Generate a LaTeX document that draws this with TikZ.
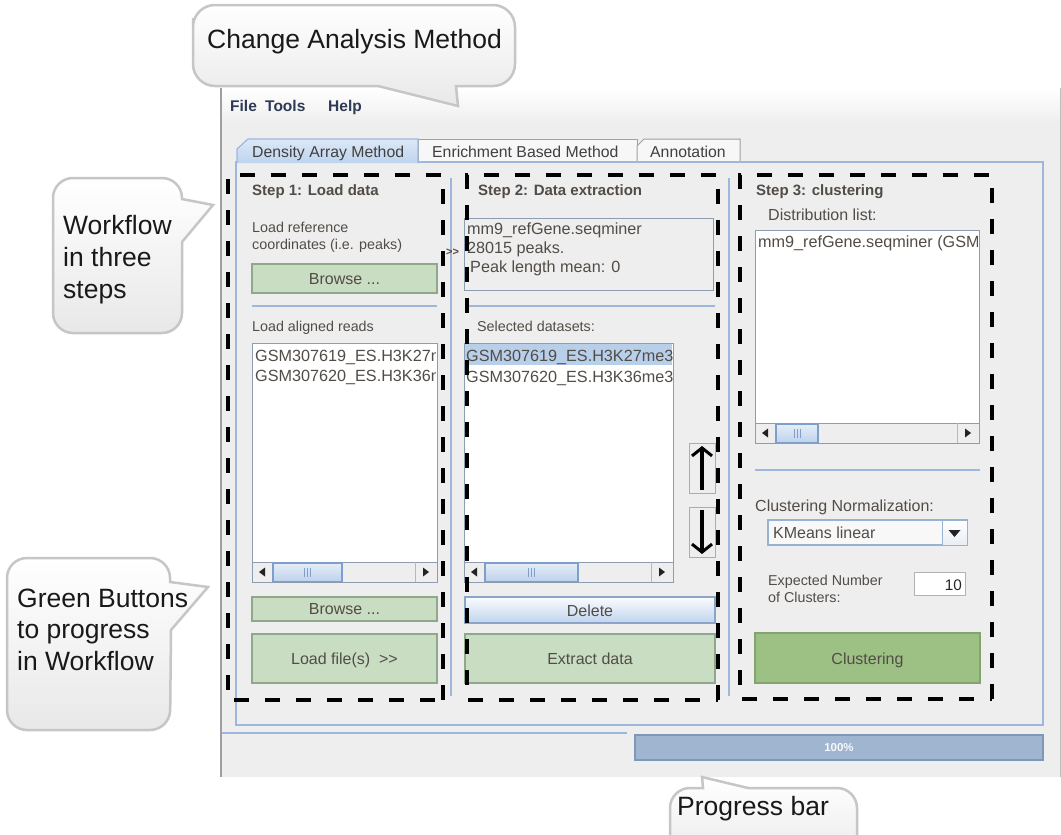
\documentclass[tikz,border=0pt]{standalone}
\usepackage{fontspec}
\setmainfont{Liberation Sans}
\usetikzlibrary{arrows.meta}
\definecolor{winbg}{HTML}{EEEEEE}
\definecolor{guitxt}{HTML}{524C47}
\definecolor{menutxt}{HTML}{2E3A56}
\definecolor{panelblue}{HTML}{9DB8DC}
\definecolor{tabT}{HTML}{DCE8F6}
\definecolor{tabB}{HTML}{BED4EE}
\definecolor{tabgray}{HTML}{F7F7F7}
\definecolor{tabborder}{HTML}{A0A0A0}
\definecolor{greenA}{HTML}{C9DDC2}
\definecolor{greenAb}{HTML}{8FA78B}
\definecolor{greenB}{HTML}{9DC184}
\definecolor{greenBb}{HTML}{83A36F}
\definecolor{selblue}{HTML}{B8CFEA}
\definecolor{listborder}{HTML}{8E9CB0}
\definecolor{thumbT}{HTML}{E6EEF8}
\definecolor{thumbB}{HTML}{BDD2EC}
\definecolor{thumbborder}{HTML}{7E9FC9}
\definecolor{delT}{HTML}{FBFCFE}
\definecolor{delB}{HTML}{BFD4EE}
\definecolor{delborder}{HTML}{8AA5C8}
\definecolor{progfill}{HTML}{A0B6D0}
\definecolor{progborder}{HTML}{7F98B8}
\definecolor{bubbleB}{HTML}{E8E8E8}
\definecolor{bubbleborder}{HTML}{C6C6C6}
\definecolor{arrowgray}{HTML}{222222}

\newcommand\hscrollbar[4]{%
  \fill[winbg] (#1,#3) rectangle (#2,#3+20);
  \draw[listborder, line width=0.8pt] (#1,#3) -- (#2,#3);
  \draw[listborder!70, line width=0.8pt] (#1+21,#3) -- (#1+21,#3+20) (#2-22,#3) -- (#2-22,#3+20);
  \shade[top color=thumbT, bottom color=thumbB] (#1+21,#3+1) rectangle (#4,#3+19.5);
  \draw[thumbborder, line width=1.2pt] (#1+21,#3+1) rectangle (#4,#3+19.5);
  \draw[thumbborder, line width=0.6pt]
    ({(#1+21+#4)/2-3},#3+6) -- ++(0,9)
    ({(#1+21+#4)/2},#3+6) -- ++(0,9)
    ({(#1+21+#4)/2+3},#3+6) -- ++(0,9);
  \fill[arrowgray] (#1+7,#3+10) -- (#1+13,#3+5.5) -- (#1+13,#3+14.5) -- cycle;
  \fill[arrowgray] (#2-8,#3+10) -- (#2-14,#3+5.5) -- (#2-14,#3+14.5) -- cycle;
}

\tikzset{
  lbl/.style={inner sep=0pt, anchor=base west, text=guitxt, font=\fontsize{14.3}{16}\selectfont},
  steptitle/.style={inner sep=0pt, anchor=base west, text=guitxt, font=\fontsize{15}{17}\selectfont\bfseries},
  item/.style={inner sep=0pt, anchor=base west, text=guitxt, font=\fontsize{16.2}{18}\selectfont},
  biglbl/.style={inner sep=0pt, anchor=base west, text=guitxt, font=\fontsize{16}{18}\selectfont},
  btntext/.style={inner sep=0pt, anchor=base, text=guitxt, font=\fontsize{16}{18}\selectfont},
  greenbtn/.style={fill=greenA, draw=greenAb, line width=1.2pt},
  darkgreenbtn/.style={fill=greenB, draw=greenBb, line width=1.2pt},
  listbox/.style={fill=white, draw=listborder, line width=1pt},
  sepline/.style={draw=panelblue, line width=1.5pt},
  dashbox/.style={draw=black, line width=3.5pt, dash pattern=on 15pt off 16pt},
  bubble/.style={top color=white, bottom color=bubbleB, draw=bubbleborder, line width=2.5pt},
  bubbletext/.style={inner sep=0pt, anchor=base west, text=black!90, font=\fontsize{26.5}{32}\selectfont},
  tabtext/.style={inner sep=0pt, anchor=base west, text=black!75, font=\fontsize{15.8}{18}\selectfont},
  menutext/.style={inner sep=0pt, anchor=base west, text=menutxt, font=\fontsize{15.5}{17}\selectfont\bfseries},
  updown/.style={fill=winbg, draw=gray!65, line width=1pt},
  udarrow/.style={draw=black, line width=3.6pt, -{Straight Barb[length=8pt,width=20pt,line width=3pt]}},
}

\begin{document}
\begin{tikzpicture}[x=1pt,y=-1pt]
\useasboundingbox (0,0) rectangle (1061,835);
\clip (0,0) rectangle (1061,835);
\fill[white] (0,0) rectangle (1061,835);

% ---------- window ----------
\fill[winbg] (221,88) rectangle (1061,777);
\shade[top color=white, bottom color=winbg] (221,88) rectangle (1061,124);
\draw[gray!75, line width=1.5pt] (221,88) -- (221,777);
\draw[gray!50, line width=1pt] (1060,88) -- (1060,777);

% menu
\node[menutext] (mfile) at (230,111) {File};
\node[menutext] (mtools) at (265,111) {Tools};
\node[menutext] (mhelp) at (328,111) {Help};

% tabs
\filldraw[fill=tabgray, draw=tabborder, line width=1pt] (418,162) -- (418,139) -- (637,139) -- (637,162);
\filldraw[fill=tabgray, draw=tabborder, line width=1pt] (637,162) -- (637,146) -- (644,139) -- (740,139) -- (740,162);
% panel
\draw[panelblue, line width=1.5pt] (236,162) rectangle (1043,725);
\shadedraw[top color=tabT, bottom color=tabB, draw=panelblue, line width=1.2pt] (237,163) -- (237,149) -- (248,139) -- (418,139) -- (418,163);
\node[tabtext] (tab1) at (252,157) {Density Array Method};
\node[tabtext] (tab2) at (432,157) {Enrichment Based Method};
\node[tabtext] (tab3) at (650,157) {Annotation};

% separators between steps
\draw[sepline] (451,178) -- (451,696);
\draw[sepline] (729,178) -- (729,696);

% ---------- Step 1 ----------
\node[steptitle] (s1title) at (252,195) {Step 1: Load data};
\node[lbl] (s1ref1) at (252,232) {Load reference};
\node[lbl] (s1ref2) at (252,249) {coordinates (i.e. peaks)};
\draw[greenbtn] (252,264) rectangle (437,293);
\node[btntext] (s1browse1) at (344.5,284) {Browse ...};
\draw[sepline] (252,306) -- (437,306);
\node[lbl] (s1reads) at (252,331) {Load aligned reads};
\draw[listbox] (252,343) rectangle (437,582);
\begin{scope}
  \clip (253,344) rectangle (435,562);
  \node[item] (s1item1) at (255,361) {GSM307619\_ES.H3K27m};
  \node[item] (s1item2) at (255,381) {GSM307620\_ES.H3K36m};
\end{scope}
\hscrollbar{252}{437}{562}{342}
\draw[listbox, fill=none] (252,343) rectangle (437,582);
\draw[greenbtn] (252,597) rectangle (437,621);
\node[btntext] (s1browse2) at (344.5,614) {Browse ...};
\draw[greenbtn] (252,634) rectangle (437,683);
\node[btntext] (s1load) at (344.5,664) {Load file(s)\ \ {>}{>}};

% ---------- Step 2 ----------
\node[steptitle] (s2title) at (478,195) {Step 2: Data extraction};
\draw[listborder, line width=1pt] (464,218) rectangle (713,290);
\node[item] (s2info1) at (467,234) {mm9\_refGene.seqminer};
\node[item] (s2info2) at (467,253) {28015 peaks.};
\node[item] (s2info3) at (470,272) {Peak length mean: 0};
\node[inner sep=0pt, anchor=base west, text=guitxt, font=\fontsize{11}{12}\selectfont\bfseries] (gtgt) at (446,255) {{>}{>}};
\draw[sepline] (465,306) -- (715,306);
\node[lbl] (s2sel) at (477,331) {Selected datasets:};
\draw[listbox] (464,343) rectangle (673,582);
\fill[selblue] (465,344) rectangle (672,365);
\begin{scope}
  \clip (465,344) rectangle (672,562);
  \node[item] (s2item1) at (466,361) {GSM307619\_ES.H3K27me3};
  \node[item] (s2item2) at (466,382) {GSM307620\_ES.H3K36me3};
\end{scope}
\hscrollbar{464}{673}{562}{578}
\draw[listbox, fill=none] (464,343) rectangle (673,582);
\draw[updown] (689,443) rectangle (715,493);
\coordinate (upA) at (702,490);
\coordinate (upB) at (702,446);
\draw[udarrow] (upA) -- (upB);
\draw[updown] (689,507) rectangle (715,557);
\coordinate (dnA) at (702,510);
\coordinate (dnB) at (702,554);
\draw[udarrow] (dnA) -- (dnB);
\shadedraw[top color=delT, bottom color=delB, draw=delborder, line width=1.2pt] (465,597) rectangle (715,623);
\node[btntext] (s2delete) at (590,616) {Delete};
\draw[greenbtn] (465,634) rectangle (715,683);
\node[btntext] (s2extract) at (590,664) {Extract data};

% ---------- Step 3 ----------
\node[steptitle] (s3title) at (756,195) {Step 3: clustering};
\node[biglbl] (s3dist) at (768,220) {Distribution list:};
\draw[listbox] (755,230) rectangle (979,443);
\begin{scope}
  \clip (756,231) rectangle (977,423);
  \node[item] (s3item) at (758,247) {mm9\_refGene.seqminer (GSM};
\end{scope}
\hscrollbar{755}{979}{423}{818}
\draw[listbox, fill=none] (755,230) rectangle (979,443);
\draw[sepline] (755,470) -- (980,470);
\node[biglbl] (s3norm) at (755,511) {Clustering Normalization:};
\draw[fill=white!60!winbg, draw=thumbborder!80, line width=1.2pt] (768,520) rectangle (967,545);
\shadedraw[top color=white, bottom color=thumbT!70!winbg, draw=thumbborder!80, line width=1pt] (942,520) rectangle (967,545);
\fill[arrowgray] (948.5,530) -- (960.5,530) -- (954.5,537) -- cycle;
\node[biglbl] (s3kmeans) at (773,538) {KMeans linear};
\node[lbl] (s3exp1) at (768,585) {Expected Number};
\node[lbl] (s3exp2) at (768,602) {of Clusters:};
\draw[fill=white, draw=gray!60, line width=1pt] (914,572) rectangle (965,595);
\node[inner sep=0pt, anchor=base east, text=black!85, font=\fontsize{15.3}{17}\selectfont] (s3ten) at (962,590) {10};
\draw[darkgreenbtn] (755,633) rectangle (980,683);
\node[btntext] (s3clust) at (867.5,664) {Clustering};

% ---------- dashed step boxes ----------
\draw[dashbox] (443,700) -- (443,175) -- (228,175) -- (228,700) -- cycle;
\draw[dashbox] (718,700) -- (718,175) -- (467,175) -- (467,700) -- cycle;
\draw[dashbox] (992,699) -- (992,175) -- (740,175) -- (740,699) -- cycle;

% ---------- status bar ----------
\draw[panelblue, line width=1.5pt] (222,733) -- (627,733);
\draw[fill=progfill, draw=progborder, line width=1.2pt] (635,735) rectangle (1043,760);
\node[inner sep=0pt, text=white!92!progfill, font=\fontsize{11.5}{13}\selectfont\bfseries] (prog) at (839,748) {100\%};

% ---------- callouts ----------
\shadedraw[bubble] (193,40) [rounded corners=22pt] -- (193,5) -- (515,5) -- (515,86)
  [sharp corners] -- (456,86) -- (458,106) -- (378,86) [rounded corners=22pt] -- (193,86) -- cycle;
\node[bubbletext] (bchange) at (207,48) {Change Analysis Method};

\shadedraw[bubble] (53,260) [rounded corners=20pt] -- (53,178) -- (182,178)
  [sharp corners] -- (182,199) -- (213,205) -- (182,242) [rounded corners=20pt] -- (182,333) -- (53,333) -- cycle;
\node[bubbletext] (bwf1) at (63,234) {Workflow};
\node[bubbletext] (bwf2) at (63,266) {in three};
\node[bubbletext] (bwf3) at (63,298) {steps};

\shadedraw[bubble] (7,650) [rounded corners=20pt] -- (7,558) -- (170,558)
  [sharp corners] -- (170,582) -- (208,587) -- (171,630) [rounded corners=20pt] -- (170,730) -- (7,730) -- cycle;
\node[bubbletext] (bgb1) at (17,607) {Green Buttons};
\node[bubbletext] (bgb2) at (17,638) {to progress};
\node[bubbletext] (bgb3) at (17,670) {in Workflow};

\shadedraw[bubble] (670,830) [rounded corners=20pt] -- (670,788)
  [sharp corners] -- (703,788) -- (702,777) -- (748,788) [rounded corners=20pt] -- (857,788) -- (857,870) -- (670,870) -- cycle;
\node[bubbletext] (bprog) at (677,815) {Progress bar};
\end{tikzpicture}
\end{document}
